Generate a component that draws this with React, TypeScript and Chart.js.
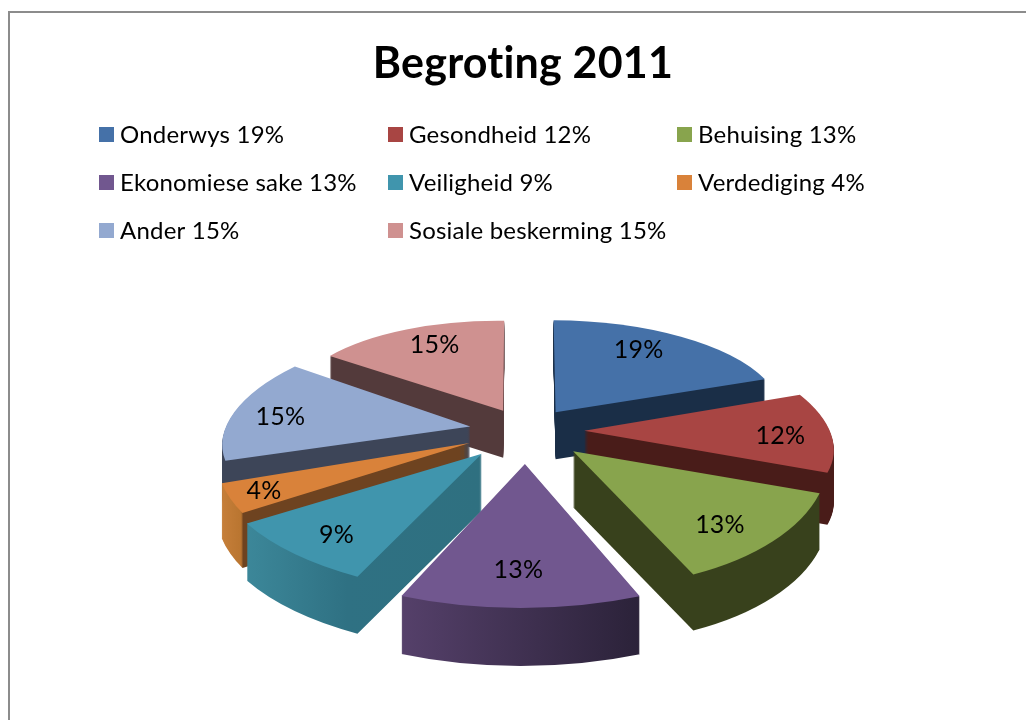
import React, { useEffect, useRef } from "react";
import { Chart, registerables } from "chart.js";

Chart.register(...registerables);

const categories = ["Onderwys", "Gesondheid", "Behuising", "Ekonomiese sake", "Veiligheid", "Verdediging", "Ander", "Sosiale beskerming"];
const shares = [19, 12, 13, 13, 9, 4, 15, 15];
const topColors = ["#4571a8", "#a84543", "#88a44d", "#71578f", "#4095ad", "#d9823a", "#93a9d0", "#cf9190"];
const wallStops: [number, string][][] = [
  [[0, "#1a2e47"], [1, "#1a2e47"]],
  [[0, "#491c19"], [1, "#491c19"]],
  [[0, "#38411c"], [1, "#38411c"]],
  [[0, "#55406a"], [1, "#2b2239"]],
  [[0, "#3c8799"], [0.45, "#2f7183"], [1, "#2f7080"]],
  [[0, "#c67f3a"], [0.105, "#b97530"], [0.115, "#6e4320"], [1, "#6e4320"]],
  [[0, "#3d4558"], [1, "#3d4558"]],
  [[0, "#533a3b"], [1, "#533a3b"]],
];
// Per-slice view matrix [xx, xy, yx, yy] standing in for the 3D perspective.
const sliceViews: number[][] = [
  [0.904, 0.008, 0.004, 0.368],
  [0.987, 0.15, 0.013, 0.424],
  [1.015, 0.115, -0.035, 0.544],
  [1.2, 0.019, -0.017, 0.576],
  [1.09, -0.037, 0.02, 0.553],
  [1.007, -0.108, 0.002, 0.525],
  [0.98, -0.155, -0.0075, 0.419],
  [0.86, -0.004, 0.01, 0.36],
];
// Small style nudges of each percentage label, in pixels.
const labelNudges: number[][] = [
  [-11, -6],
  [11, 3],
  [-3, 6],
  [-3, -2],
  [-5, 6],
  [-26, 6],
  [-13, 1],
  [4, -5],
];

const FONT = "Lato, Carlito, sans-serif";
const LEGEND_COLUMNS = [99, 388, 677];
const LEGEND_ROWS = [127, 175, 223];
const PIE = { cx: 526, cy: 430, radius: 250, explode: 59, labelAt: 0.75 };

function sliceGeometry(el: any, i: number) {
  const mid = (el.startAngle + el.endAngle) / 2;
  const s = Math.sin(mid);
  const [xx, xy, yx, yy] = sliceViews[i];
  return {
    mid,
    s,
    xx,
    xy,
    yx,
    yy,
    depth: 52 + 6 * s,
  };
}

const pie3d = {
  id: "pie3d",
  beforeDraw(chart: any) {
    const { ctx } = chart;
    ctx.letterSpacing = "0.2px";
    ctx.save();
    ctx.fillStyle = "#ffffff";
    ctx.fillRect(0, 0, chart.width, chart.height);
    ctx.strokeStyle = "#8c8c8c";
    ctx.lineWidth = 2;
    ctx.strokeRect(9, 12, chart.width + 40, chart.height + 40);
    ctx.restore();
  },
  beforeDatasetsDraw(chart: any) {
    const { ctx } = chart;
    const arcs = chart.getDatasetMeta(0).data.map((el: any, i: number) => ({ el, i }));
    arcs.sort((a: any, b: any) => sliceGeometry(a.el, a.i).s - sliceGeometry(b.el, b.i).s);
    for (const { el, i } of arcs) {
      const g = sliceGeometry(el, i);
      const f = PIE.radius / el.outerRadius;
      const ox = (PIE.explode / f) * Math.cos(g.mid);
      const oy = (PIE.explode / f) * Math.sin(g.mid);
      const place = (dy: number) => {
        ctx.save();
        ctx.translate(PIE.cx, PIE.cy + dy);
        ctx.transform(g.xx * f, g.yx * f, g.xy * f, g.yy * f, 0, 0);
        ctx.translate(ox - el.x, oy - el.y);
      };
      const R = el.outerRadius;
      const xs = [0, R * Math.cos(el.startAngle), R * Math.cos(el.endAngle)];
      for (const a of [-Math.PI, Math.PI, -3 * Math.PI, 3 * Math.PI, 0, 2 * Math.PI]) {
        if (a > el.startAngle && a < el.endAngle) xs.push(R * Math.cos(a));
      }
      const grad = ctx.createLinearGradient(Math.min(...xs) + el.x, 0, Math.max(...xs) + el.x, 0);
      wallStops[i].forEach(([p, c]) => grad.addColorStop(p, c));
      const top = el.options;
      el.options = { ...top, backgroundColor: grad };
      for (let d = Math.round(g.depth); d >= 1; d--) {
        place(d);
        el.draw(ctx);
        ctx.restore();
      }
      el.options = top;
      place(0);
      el.draw(ctx);
      ctx.restore();
    }
    return false;
  },
  afterDraw(chart: any) {
    const { ctx } = chart;
    ctx.save();
    // slice labels
    ctx.fillStyle = "#000000";
    ctx.font = `25px ${FONT}`;
    ctx.textAlign = "center";
    ctx.textBaseline = "middle";
    chart.getDatasetMeta(0).data.forEach((el: any, i: number) => {
      const g = sliceGeometry(el, i);
      const r = PIE.radius * PIE.labelAt + PIE.explode;
      const lx = r * Math.cos(g.mid);
      const ly = r * Math.sin(g.mid);
      const [nx, ny] = labelNudges[i];
      ctx.fillText(`${shares[i]}%`, PIE.cx + g.xx * lx + g.xy * ly + nx, PIE.cy + g.yx * lx + g.yy * ly + ny);
    });
    // legend in three columns
    ctx.font = `24px ${FONT}`;
    ctx.textAlign = "left";
    categories.forEach((name, i) => {
      const x = LEGEND_COLUMNS[i % 3];
      const y = LEGEND_ROWS[Math.floor(i / 3)];
      ctx.fillStyle = topColors[i];
      ctx.fillRect(x, y, 15, 15);
      ctx.fillStyle = "#000000";
      ctx.fillText(`${name} ${shares[i]}%`, x + 21, y + 8);
    });
    ctx.restore();
  },
};

export default function App() {
  const ref = useRef<HTMLCanvasElement | null>(null);
  useEffect(() => {
    if (!ref.current) return;
    const chart = new Chart(ref.current, {
      type: "pie",
      data: {
        labels: categories,
        datasets: [
          {
            data: shares,
            backgroundColor: topColors,
            borderWidth: 0,
            radius: PIE.radius,
          },
        ],
      },
      options: {
        responsive: false,
        animation: false,
        events: [],
        layout: { padding: { left: 20 } },
        plugins: {
          legend: { display: false },
          tooltip: { enabled: false },
          title: {
            display: true,
            text: "Begroting 2011",
            fullSize: false,
            color: "#000000",
            font: { family: FONT, size: 43, weight: "bold" },
            padding: { top: 38, bottom: 10 },
          },
        },
      },
      plugins: [pie3d],
    } as any);
    return () => chart.destroy();
  }, []);
  return (
    <div style={{ position: "fixed", left: 0, top: 0, width: 1026, height: 720, overflow: "hidden", background: "#fff" }}>
      <canvas ref={ref} width={1026} height={720} style={{ display: "block" }} />
    </div>
  );
}
